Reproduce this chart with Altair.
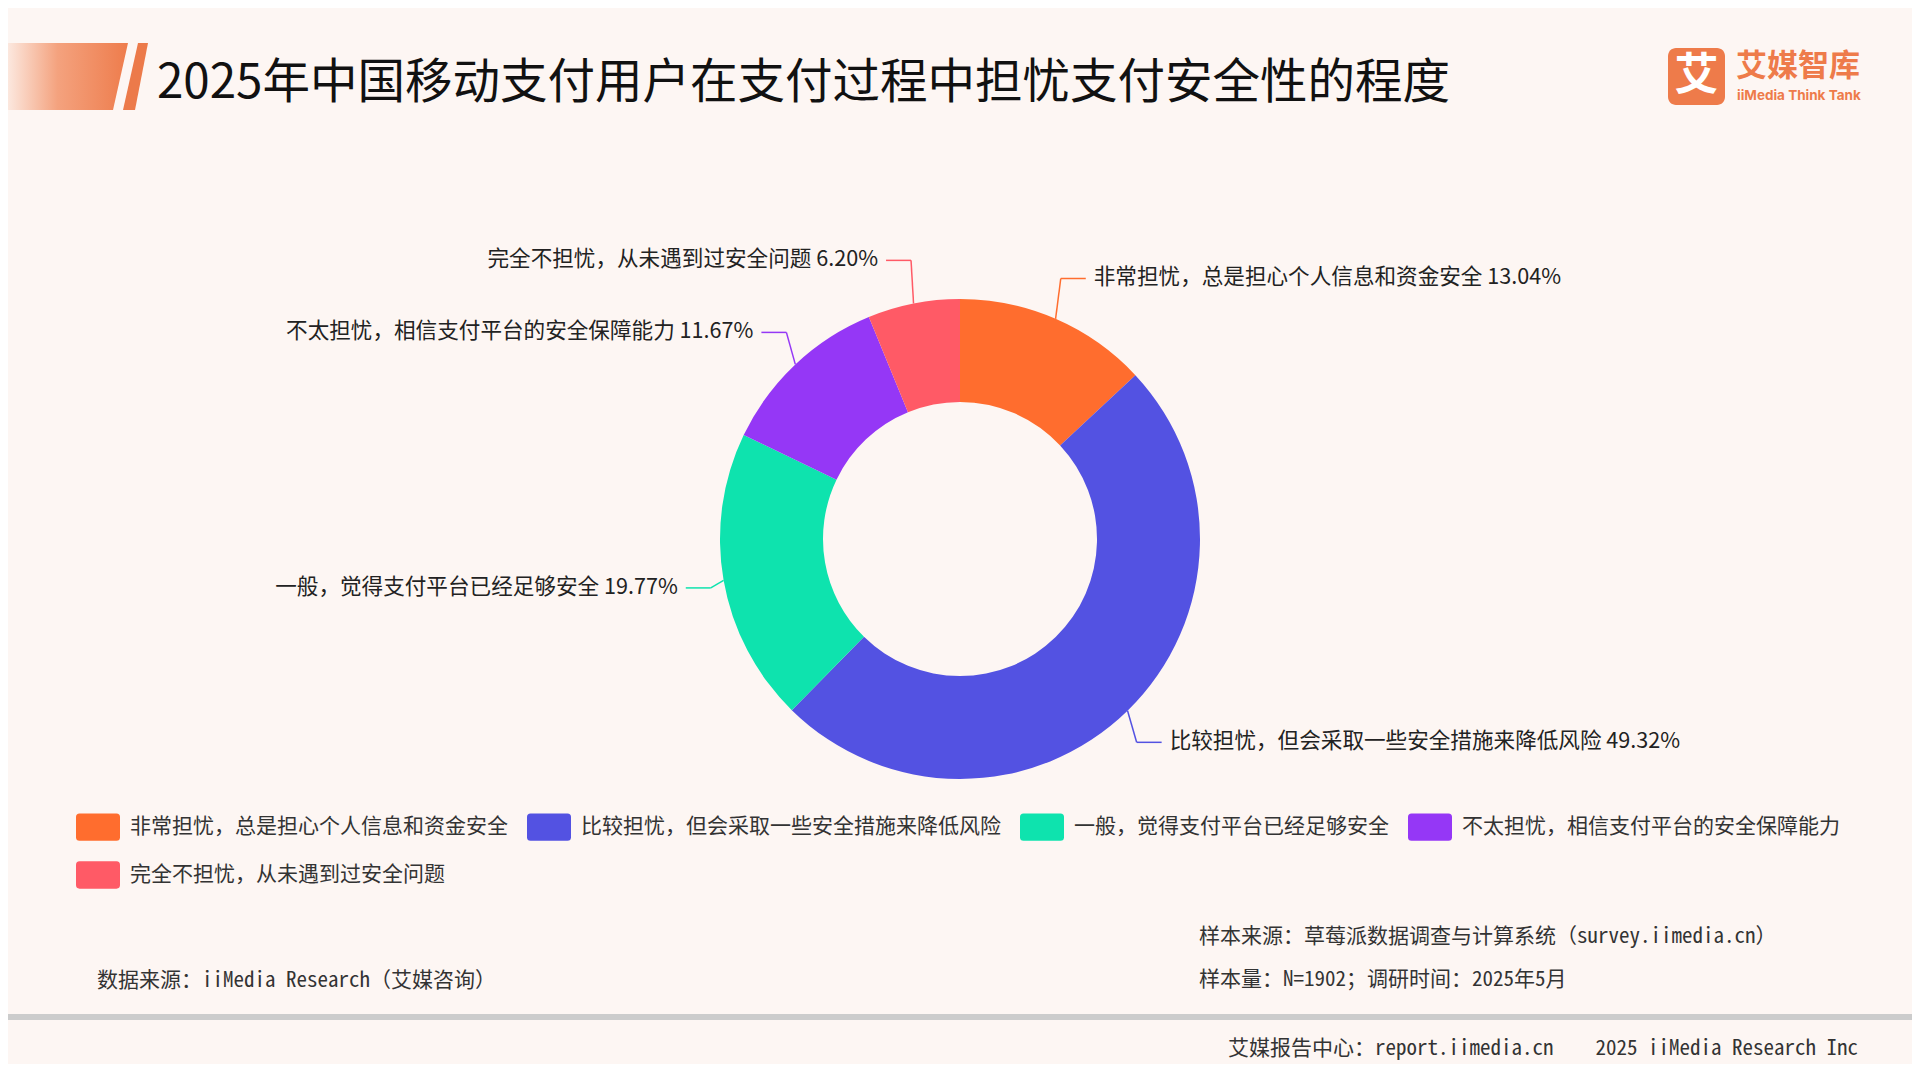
import altair as alt
import pandas as pd

# ---- data ----
categories = [
    "非常担忧，总是担心个人信息和资金安全",
    "比较担忧，但会采取一些安全措施来降低风险",
    "一般，觉得支付平台已经足够安全",
    "不太担忧，相信支付平台的安全保障能力",
    "完全不担忧，从未遇到过安全问题",
]
values = [13.04, 49.32, 19.77, 11.67, 6.20]
colors = ["#FF6D2E", "#5352E2", "#0EE3AE", "#9537F6", "#FF5A66"]

title_text = "2025年中国移动支付用户在支付过程中担忧支付安全性的程度"
source_text = "数据来源：iiMedia Research（艾媒咨询）"
sample_text = "样本来源：草莓派数据调查与计算系统（survey.iimedia.cn）"
size_text = "样本量：N=1902；调研时间：2025年5月"
footer_text = "艾媒报告中心：report.iimedia.cn\u00a0\u00a0\u00a0\u00a02025 iiMedia Research Inc"

W, H = 1904, 1056
CX, CY = 952, 531
R_OUT, R_IN = 240, 137
RX_END, RY_END = 253, 284
HOR, GAP = 25, 8

FONT = "Noto Sans CJK SC"
MONO = "Noto Sans Mono CJK SC, Liberation Mono, Noto Sans CJK SC"
BG = "#FDF6F3"

df = pd.DataFrame({
    "idx": list(range(len(categories))),
    "cat": categories,
    "value": values,
    "col": colors,
})

base = (
    alt.Chart(df)
    .transform_window(cum="sum(value)", sort=[alt.SortField("idx")])
    .transform_joinaggregate(total="sum(value)")
    .transform_calculate(
        mid="(datum.cum - datum.value / 2) / datum.total * 2 * PI",
        s="sin(datum.mid)",
        c="cos(datum.mid)",
        x0=f"{CX} + {R_OUT} * datum.s",
        y0=f"{CY} - {R_OUT} * datum.c",
        x1=f"{CX} + {RX_END} * datum.s",
        y1=f"{CY} - {RY_END} * datum.c",
        x2=f"datum.x1 + (datum.s > 0 ? {HOR} : {-HOR})",
        tx=f"datum.x2 + (datum.s > 0 ? {GAP} : {-GAP})",
        label="datum.cat + ' ' + format(datum.value, '.2f') + '%'",
    )
)

legend_symbol = (
    "M-0.84,-0.62 L0.84,-0.62 Q1,-0.62 1,-0.46 L1,0.46 Q1,0.62 0.84,0.62 "
    "L-0.84,0.62 Q-1,0.62 -1,0.46 L-1,-0.46 Q-1,-0.62 -0.84,-0.62 Z"
)

arcs = alt.Chart(df).mark_arc(innerRadius=R_IN, outerRadius=R_OUT, stroke=None).encode(
    theta=alt.Theta("value:Q", stack=True),
    order=alt.Order("idx:Q"),
    color=alt.Color(
        "cat:N",
        sort=categories,
        scale=alt.Scale(domain=categories, range=colors),
        legend=alt.Legend(
            title=None,
            orient="none",
            legendX=68,
            legendY=797,
            direction="horizontal",
            columns=4,
            symbolType=legend_symbol,
            symbolSize=1936,
            symbolStrokeWidth=0,
            symbolOpacity=1,
            labelFont=FONT,
            labelFontSize=21,
            labelColor="#333333",
            labelOffset=10,
            labelLimit=1000,
            columnPadding=19,
            rowPadding=12,
        ),
    ),
    x=alt.value(CX),
    y=alt.value(CY),
)

lead1 = base.mark_rule(strokeWidth=1.5).encode(
    x=alt.X("x0:Q", scale=None, axis=None),
    y=alt.Y("y0:Q", scale=None, axis=None),
    x2="x1:Q",
    y2="y1:Q",
    color=alt.Color("col:N", scale=None),
)
lead2 = base.mark_rule(strokeWidth=1.5).encode(
    x=alt.X("x1:Q", scale=None, axis=None),
    y=alt.Y("y1:Q", scale=None, axis=None),
    x2="x2:Q",
    color=alt.Color("col:N", scale=None),
)
text_right = base.transform_filter("datum.s > 0").mark_text(
    align="left", baseline="middle", font=FONT, fontSize=21.6, color="#222222"
).encode(
    x=alt.X("tx:Q", scale=None, axis=None),
    y=alt.Y("y1:Q", scale=None, axis=None),
    text="label:N",
)
text_left = base.transform_filter("datum.s <= 0").mark_text(
    align="right", baseline="middle", font=FONT, fontSize=21.6, color="#222222"
).encode(
    x=alt.X("tx:Q", scale=None, axis=None),
    y=alt.Y("y1:Q", scale=None, axis=None),
    text="label:N",
)

dummy = pd.DataFrame({"k": [0]})


def txt(t, x, y, size, font=FONT, align="left", color="#333333", weight="normal"):
    return alt.Chart(dummy).mark_text(
        text=t, align=align, baseline="middle", font=font, fontSize=size,
        color=color, fontWeight=weight,
    ).encode(x=alt.value(x), y=alt.value(y))


# banner decoration
banner = alt.Chart(dummy).mark_point(
    shape="M-8,0 L120,0 L105,67 L-8,67 Z",
    size=4,
    filled=True,
    opacity=1,
    strokeWidth=0,
    fill=alt.Gradient(
        gradient="linear",
        stops=[
            alt.GradientStop(color="#FDF3EE", offset=0),
            alt.GradientStop(color="#F4A27E", offset=0.45),
            alt.GradientStop(color="#EE7C4C", offset=1),
        ],
        x1=0, x2=1, y1=0, y2=0,
    ),
).encode(x=alt.value(0), y=alt.value(35))
stripe = alt.Chart(dummy).mark_point(
    shape="M130,0 L140,0 L127,67 L115,67 Z",
    size=4, filled=True, opacity=1, strokeWidth=0, fill="#EC7A4A",
).encode(x=alt.value(0), y=alt.value(35))

# logo
logo_box = alt.Chart(dummy).mark_rect(cornerRadius=8, color="#EE7B4A").encode(
    x=alt.value(1660), x2=alt.value(1717), y=alt.value(40), y2=alt.value(97)
)
logo_char = txt("艾", 1688.5, 69, 44, color="#FFFFFF", align="center", weight="bold")
logo_name = txt("艾媒智库", 1728, 59, 31, color="#EE7B4A", weight="bold")
logo_en = txt("iiMedia Think Tank", 1729, 88, 13.5, font="Inter", color="#EE7B4A", weight="bold")

title = txt(title_text, 149, 76, 47.5, color="#111111")

sep = alt.Chart(dummy).mark_rule(color="#CCCCCC", strokeWidth=6).encode(
    x=alt.value(0), x2=alt.value(W), y=alt.value(1009)
)

foot1 = txt(source_text, 89, 973, 21, font=MONO)
foot2 = txt(sample_text, 1191, 929, 21, font=MONO)
foot3 = txt(size_text, 1191, 972, 21, font=MONO)
foot4 = txt(footer_text, 1850, 1041, 21, font=MONO, align="right")

chart = alt.layer(
    banner, stripe, title, logo_box, logo_char, logo_name, logo_en,
    arcs, lead1, lead2, text_right, text_left,
    sep, foot1, foot2, foot3, foot4,
).properties(
    width=W, height=H,
    autosize=alt.AutoSizeParams(type="none"),
    padding=0,
    background=BG,
).configure_view(stroke=None)

chart.save("out.html", embed_options={"renderer": "svg", "actions": False})
